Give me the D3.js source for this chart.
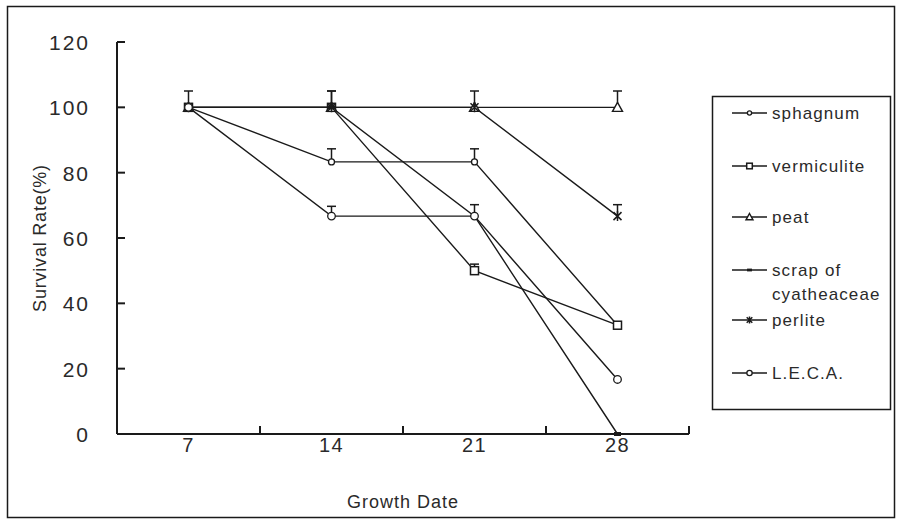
<!DOCTYPE html>
<html>
<head>
<meta charset="utf-8">
<script src="https://cdn.jsdelivr.net/npm/d3@7/dist/d3.min.js"></script>
<style>
  html, body { margin: 0; padding: 0; background: #fff; }
  svg { display: block; font-family: "Liberation Sans", Arial, sans-serif; }
</style>
</head>
<body>
<svg id="chart" width="901" height="523"></svg>
<script>
// Survival rate of cuttings by substrate, sampled on growth days 7, 14, 21, 28
const days = ["7", "14", "21", "28"];
const yTicks = [0, 20, 40, 60, 80, 100, 120];

const sphagnum    = [100, 83.3, 83.3, 33.3];
const vermiculite = [100, 100, 50, 33.3];
const peat        = [100, 100, 100, 100];
const scrap       = [100, 100, 66.7, 0];
const perlite     = [100, 100, 100, 66.7];
const leca        = [100, 66.7, 66.7, 16.7];

// upper error bar lengths (percentage points)
const sphagnumErr    = [0, 4, 4, 0];
const vermiculiteErr = [0, 5, 2, 1];
const peatErr        = [5, 5, 5, 5];
const scrapErr       = [0, 0, 3.5, 0];
const perliteErr     = [0, 0, 0, 3.5];
const lecaErr        = [0, 3, 0, 0];

const seriesNames = ["sphagnum", "vermiculite", "peat", "scrap of cyatheaceae", "perlite", "L.E.C.A."];
const seriesValues = [sphagnum, vermiculite, peat, scrap, perlite, leca];
const seriesErrors = [sphagnumErr, vermiculiteErr, peatErr, scrapErr, perliteErr, lecaErr];
const seriesMarks = ["smallCircle", "square", "triangle", "dash", "star", "circle"];

const ink = "#1a1a1a";
const textInk = "#2a2a2a";
const svg = d3.select("#chart");

// outer frame
svg.append("rect").attr("x", 7.5).attr("y", 6.5).attr("width", 887).attr("height", 511)
  .attr("fill", "none").attr("stroke", ink).attr("stroke-width", 1.5);

const x = d3.scaleBand().domain(days).range([117, 689]).padding(0);
const y = d3.scaleLinear().domain([0, 120]).range([434, 42]);
const cx = d => x(d) + x.bandwidth() / 2;

// y axis: inward ticks, labels on the left
const yAxis = d3.axisLeft(y).tickValues(yTicks).tickSize(0).tickPadding(0).tickFormat(d3.format("d"));
const gy = svg.append("g").attr("transform", "translate(117,0)").call(yAxis);
gy.select(".domain").remove();
gy.selectAll("text").attr("x", -27).attr("dy", "0.36em")
  .attr("font-size", 21).attr("letter-spacing", 2).attr("fill", textInk)
  .attr("font-family", "'Liberation Sans', Arial, sans-serif");
svg.append("line").attr("x1", 117).attr("x2", 117).attr("y1", y(120)).attr("y2", y(0))
  .attr("stroke", ink).attr("stroke-width", 2);
svg.selectAll(".ytick").data(yTicks).join("line")
  .attr("x1", 117).attr("x2", 125).attr("y1", d => y(d)).attr("y2", d => y(d))
  .attr("stroke", ink).attr("stroke-width", 2);

// x axis: labels centred on days, ticks at band edges pointing inward
const xAxis = d3.axisBottom(x).tickSize(0).tickPadding(0);
const gx = svg.append("g").attr("transform", `translate(0,${y(0)})`).call(xAxis);
gx.select(".domain").remove();
gx.selectAll("text").attr("y", 11).attr("dy", "0.36em")
  .attr("font-size", 20).attr("letter-spacing", 1.5).attr("fill", textInk)
  .attr("font-family", "'Liberation Sans', Arial, sans-serif");
svg.append("line").attr("x1", 117).attr("x2", 689).attr("y1", y(0)).attr("y2", y(0))
  .attr("stroke", ink).attr("stroke-width", 2);
const edges = days.map(d => x(d)).concat([x(days[days.length - 1]) + x.bandwidth()]);
svg.selectAll(".xtick").data(edges).join("line")
  .attr("x1", d => d).attr("x2", d => d).attr("y1", y(0)).attr("y2", y(0) - 8)
  .attr("stroke", ink).attr("stroke-width", 2);

// axis titles
svg.append("text").attr("x", 403).attr("y", 508).attr("text-anchor", "middle")
  .attr("font-size", 18).attr("letter-spacing", 1).attr("fill", textInk).text("Growth Date");
svg.append("text").attr("transform", "translate(46,238) rotate(-90)").attr("text-anchor", "middle")
  .attr("font-size", 18).attr("letter-spacing", 0.8).attr("fill", textInk).text("Survival Rate(%)");

// marker shapes; k scales the glyph size
function drawMark(g, kind, px, py, k = 1) {
  if (kind === "smallCircle") {
    g.append("circle").attr("cx", px).attr("cy", py).attr("r", 3 * k)
      .attr("fill", "#fff").attr("stroke", ink).attr("stroke-width", 1.3);
  } else if (kind === "circle") {
    g.append("circle").attr("cx", px).attr("cy", py).attr("r", 3.8 * k)
      .attr("fill", "#fff").attr("stroke", ink).attr("stroke-width", 1.3);
  } else if (kind === "square") {
    g.append("rect").attr("x", px - 4 * k).attr("y", py - 4 * k).attr("width", 8 * k).attr("height", 8 * k)
      .attr("fill", "#fff").attr("stroke", ink).attr("stroke-width", 1.5);
  } else if (kind === "triangle") {
    g.append("path").attr("d", `M${px},${py - 5 * k}L${px + 5 * k},${py + 4 * k}L${px - 5 * k},${py + 4 * k}Z`)
      .attr("fill", "#fff").attr("stroke", ink).attr("stroke-width", 1.4);
  } else if (kind === "dash") {
    g.append("rect").attr("x", px - 3.5 * k).attr("y", py - 2 * k).attr("width", 7 * k).attr("height", 4 * k)
      .attr("fill", ink);
  } else if (kind === "star") {
    const a = 4 * k, b = 5 * k;
    g.append("path")
      .attr("d", `M${px - a},${py - a}L${px + a},${py + a}M${px + a},${py - a}L${px - a},${py + a}M${px},${py - b}L${px},${py + b}`)
      .attr("stroke", ink).attr("stroke-width", 1.5);
  }
}

const line = d3.line().x((v, i) => cx(days[i])).y(v => y(v));
const plot = svg.append("g");

// series lines
seriesValues.forEach(vals => {
  plot.append("path").attr("d", line(vals)).attr("fill", "none")
    .attr("stroke", ink).attr("stroke-width", 1.4);
});

// upper error bars
seriesValues.forEach((vals, s) => {
  vals.forEach((v, i) => {
    const e = seriesErrors[s][i];
    if (!e) return;
    const px = cx(days[i]);
    plot.append("line").attr("x1", px).attr("x2", px).attr("y1", y(v)).attr("y2", y(v + e))
      .attr("stroke", ink).attr("stroke-width", 1.5);
    plot.append("line").attr("x1", px - 4.5).attr("x2", px + 4.5).attr("y1", y(v + e)).attr("y2", y(v + e))
      .attr("stroke", ink).attr("stroke-width", 1.5);
  });
});

// markers
seriesValues.forEach((vals, s) => {
  vals.forEach((v, i) => drawMark(plot, seriesMarks[s], cx(days[i]), y(v)));
});

// legend
const lg = svg.append("g");
lg.append("rect").attr("x", 712.5).attr("y", 96.5).attr("width", 178).attr("height", 313)
  .attr("fill", "#fff").attr("stroke", ink).attr("stroke-width", 1.5);
const legendRows = [113, 166, 217, 270, 320, 373];
seriesNames.forEach((name, s) => {
  const ry = legendRows[s];
  lg.append("line").attr("x1", 732).attr("x2", 767).attr("y1", ry).attr("y2", ry)
    .attr("stroke", ink).attr("stroke-width", 1.4);
  drawMark(lg, seriesMarks[s], 749.5, ry, 0.7);
  const t = lg.append("text").attr("x", 772).attr("y", ry).attr("dy", "0.35em")
    .attr("font-size", 17).attr("letter-spacing", 1.1).attr("fill", textInk);
  if (name === "scrap of cyatheaceae") {
    t.append("tspan").attr("x", 772).text("scrap of");
    t.append("tspan").attr("x", 772).attr("dy", "1.4em").text("cyatheaceae");
  } else {
    t.text(name);
  }
});
</script>
</body>
</html>
